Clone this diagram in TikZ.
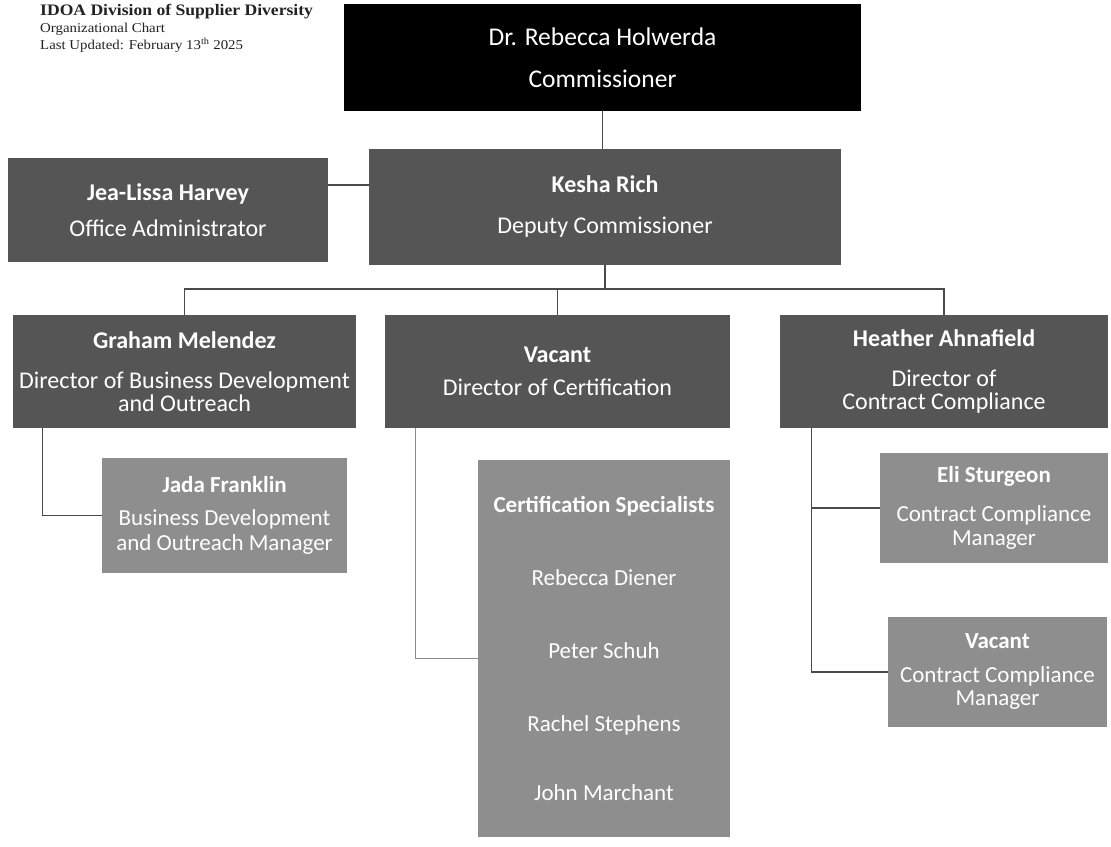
\documentclass[tikz,border=0pt]{standalone}
\usepackage{fontspec}
\setmainfont{Carlito}
\newfontfamily\hdrfont[FakeStretch=1.1]{Liberation Serif}
\definecolor{boxdark}{HTML}{555555}
\definecolor{boxlight}{HTML}{8E8E8E}
\definecolor{linecol}{HTML}{4A4A4A}
\definecolor{linelight}{HTML}{8A8A8A}
\definecolor{hdrcol}{HTML}{222222}
\begin{document}
\begin{tikzpicture}[x=1pt,y=-1pt,
  orgbox/.style={rectangle, inner sep=0pt, align=center, text=white},
  lvlone/.style={orgbox, fill=black, font=\fontsize{25.5}{26.5}\selectfont},
  lvltwo/.style={orgbox, fill=boxdark, font=\fontsize{24}{25}\selectfont},
  lvlthree/.style={orgbox, fill=boxlight, font=\fontsize{23}{24}\selectfont},
  conn/.style={draw=linecol, line width=1.3pt},
  connlight/.style={draw=linelight, line width=1.1pt},
  hdr/.style={anchor=west, inner sep=0pt, text=hdrcol}]
\useasboundingbox (0,0) rectangle (1111,846);
\fill[white] (0,0) rectangle (1111,846);

% header
\node[hdr, font=\hdrfont\fontsize{16}{17}\selectfont\bfseries] (hdrone) at (40,12) {IDOA Division of Supplier Diversity};
\node[hdr, font=\hdrfont\fontsize{13.5}{14.5}\selectfont] (hdrtwo) at (40,29) {Organizational Chart};
\node[hdr, font=\hdrfont\fontsize{13.5}{14.5}\selectfont] (hdrthree) at (40,45) {Last Updated: February 13\textsuperscript{th} 2025};

% level 1
\node[lvlone, minimum width=517pt, minimum height=107pt] (comm) at (602.5,57.5)
  {Dr. Rebecca Holwerda\\[16pt]Commissioner};

% level 2
\node[lvltwo, minimum width=320pt, minimum height=104pt] (jea) at (168,210)
  {\textbf{Jea-Lissa Harvey}\\[11pt]Office Administrator};
\node[lvltwo, minimum width=472pt, minimum height=116pt] (kesha) at (605,207)
  {\textbf{Kesha Rich}\\[16pt]Deputy Commissioner};

% directors
\node[lvltwo, minimum width=343pt, minimum height=113pt] (graham) at (184.5,371.5)
  {\textbf{Graham Melendez}\\[15pt]Director of Business Development\\[-2pt]and Outreach};
\node[lvltwo, minimum width=345pt, minimum height=113pt] (vacdir) at (557.5,371.5)
  {\textbf{Vacant}\\[8pt]Director of Certification};
\node[lvltwo, minimum width=328pt, minimum height=113pt] (heather) at (944,371.5)
  {\textbf{Heather Ahnafield}\\[15pt]Director of\\[-2pt]Contract Compliance};

% level 3
\node[lvlthree, minimum width=245pt, minimum height=115pt] (jada) at (224.5,515.5)
  {\textbf{Jada Franklin}\\[9pt]Business Development\\[1pt]and Outreach Manager};
\node[lvlthree, minimum width=252pt, minimum height=377pt] (cert) at (604,648.5)
  {\textbf{Certification Specialists}\\[49pt]Rebecca Diener\\[49pt]Peter Schuh\\[49pt]Rachel Stephens\\[45pt]John Marchant};
\node[lvlthree, minimum width=228pt, minimum height=110pt] (eli) at (994,508)
  {\textbf{Eli Sturgeon}\\[15pt]Contract Compliance\\[0pt]Manager};
\node[lvlthree, minimum width=219pt, minimum height=110pt] (vacccm) at (997.5,672)
  {\textbf{Vacant}\\[10pt]Contract Compliance\\[-1pt]Manager};

% helper rows
\coordinate (adminrow) at (0,185);
\coordinate (bus) at (0,289);

% connectors
\draw[conn] (comm.south) -- (comm.south |- kesha.north);
\draw[conn] (jea.east |- adminrow) -- (kesha.west |- adminrow);
\draw[conn] (kesha.south) -- (kesha.south |- bus);
\draw[conn] (graham.north) -- (graham.north |- bus) -- (heather.north |- bus) -- (heather.north);
\draw[conn] (vacdir.north |- bus) -- (vacdir.north);

\draw[conn] ([xshift=30pt]graham.south west) |- (jada.west);
\draw[connlight] ([xshift=31pt]vacdir.south west) |- ([yshift=-10pt]cert.west);
\draw[conn] ([xshift=32pt]heather.south west) |- (vacccm.west);
\draw[conn] ([xshift=32pt]heather.south west |- eli.west) -- (eli.west);
\end{tikzpicture}
\end{document}
